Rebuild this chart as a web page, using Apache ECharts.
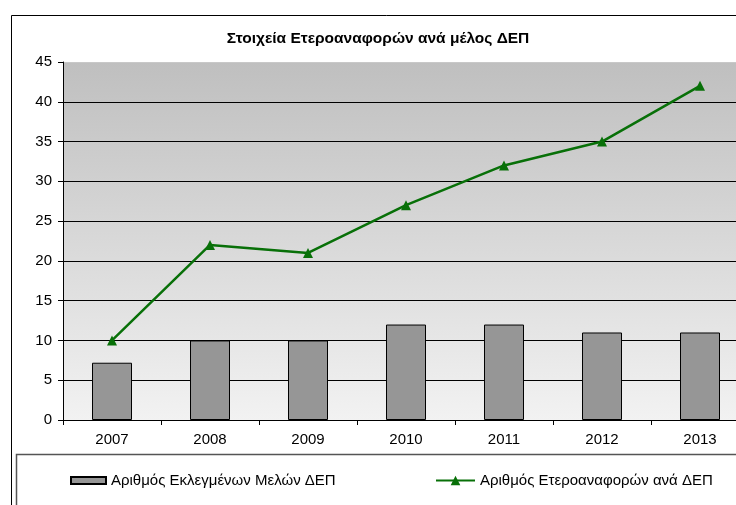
<!DOCTYPE html>
<html>
<head>
    <meta charset="utf-8">
    <script src="https://cdn.jsdelivr.net/npm/echarts@6/dist/echarts.min.js"></script>
    <style>
        html, body { margin: 0; padding: 0; background: #fff; overflow: hidden; }
        #main { width: 760px; height: 505px; }
    </style>
</head>
<body>
<div id="main"></div>
<script type="text/javascript">
// δεδομένα
var years = ['2007', '2008', '2009', '2010', '2011', '2012', '2013'];
var members = [7.2, 10, 10, 12, 12, 11, 11];
var refs = [10, 22, 21, 27, 32, 35, 42];
var barName = 'Αριθμός Εκλεγμένων Μελών ΔΕΠ';
var lineName = 'Αριθμός Ετεροαναφορών ανά ΔΕΠ';

// το διάγραμμα είναι κομμένο δεξιά, γι' αυτό ο καμβάς είναι λίγο φαρδύτερος από το παράθυρο
var myChart = echarts.init(document.getElementById('main'));
var font = 'Liberation Sans, Arial, sans-serif';

// χρώματα γραμμών πλέγματος (η τελευταία στο 45 δεν φαίνεται)
var gridColors = ['#000', '#000', '#000', '#000', '#000', '#000', '#000', '#000', '#000', '#c8c8c8'];

var option = {
    animation: false,
    title: {
        text: 'Στοιχεία Ετεροαναφορών ανά μέλος ΔΕΠ',
        left: 373,
        textAlign: 'center',
        top: 26,
        textStyle: { fontFamily: font, fontSize: 15.5, fontWeight: 'bold', color: '#000' }
    },
    graphic: [
        { type: 'rect', shape: { x: 11.5, y: 15.5, width: 780, height: 520 },
          style: { fill: 'none', stroke: '#000', lineWidth: 1 }, z: -10 },
        { type: 'rect', shape: { x: 16.5, y: 454.5, width: 780, height: 80 },
          style: { fill: 'none', stroke: '#555', lineWidth: 1.5 }, z: -10 }
    ],
    legend: [{
        data: [{ name: barName, icon: 'rect' }],
        left: 70,
        top: 473,
        padding: 0,
        itemWidth: 35,
        itemHeight: 7,
        textStyle: { fontFamily: font, fontSize: 15, color: '#000' }
    }, {
        data: [lineName],
        left: 435,
        top: 473,
        padding: 0,
        itemWidth: 39,
        itemHeight: 12,
        textStyle: { fontFamily: font, fontSize: 15, color: '#000' }
    }],
    grid: {
        left: 63,
        top: 62,
        right: 11,
        height: 358,
        show: true,
        borderWidth: 0,
        backgroundColor: new echarts.graphic.LinearGradient(0, 0, 0, 1, [
            { offset: 0, color: '#bfbfbf' },
            { offset: 1, color: '#f2f2f2' }
        ])
    },
    xAxis: {
        type: 'category',
        data: years,
        axisLine: { lineStyle: { color: '#000', width: 1 } },
        axisTick: { show: true, length: 5, lineStyle: { color: '#000' } },
        axisLabel: { fontFamily: font, fontSize: 15, color: '#000', margin: 12 }
    },
    yAxis: {
        type: 'value',
        min: 0,
        max: 45,
        interval: 5,
        axisLine: { show: true, lineStyle: { color: '#000', width: 1 } },
        axisTick: { show: true, length: 5, lineStyle: { color: '#000' } },
        axisLabel: { fontFamily: font, fontSize: 15, color: '#000', margin: 11 },
        splitLine: { show: true, lineStyle: { color: gridColors, width: 1 } }
    },
    series: [{
        name: barName,
        type: 'bar',
        data: members,
        barWidth: 40,
        itemStyle: { color: '#969696', borderColor: '#000', borderWidth: 1 }
    }, {
        name: lineName,
        type: 'line',
        data: refs,
        symbol: 'triangle',
        symbolSize: 10,
        lineStyle: { color: '#087008', width: 2.5 },
        itemStyle: { color: '#087008' }
    }]
};

myChart.setOption(option);
</script>
</body>
</html>
